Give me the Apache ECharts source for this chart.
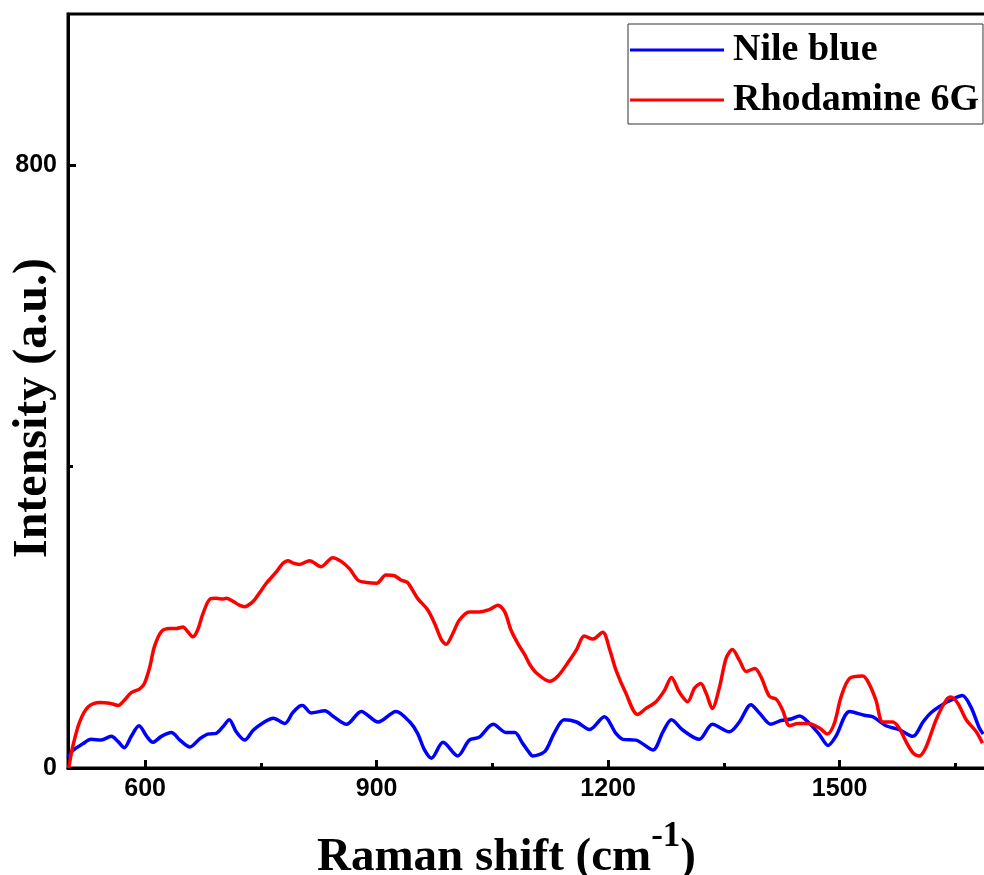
<!DOCTYPE html>
<html>
<head>
<meta charset="utf-8">
<script src="https://cdn.jsdelivr.net/npm/echarts@6/dist/echarts.min.js"></script>
<style>
html,body{margin:0;padding:0;background:#fff;}
#chart{width:984px;height:875px;}
</style>
</head>
<body>
<div id="chart"></div>
<script>
// Nile blue spectrum (Raman shift, intensity)
const nileX = [500,506,519,530,543,556,565,573,582,592,602,610,621,634,645,658,671,681,692,701,709,718,729,740,753,766,781,791,800,804,815,833,843,861,880,902,925,943,953,962,971,986,1005,1020,1033,1051,1068,1079,1089,1098,1102,1118,1130,1143,1159,1176,1195,1210,1219,1236,1258,1271,1282,1297,1318,1335,1357,1370,1385,1396,1411,1424,1437,1448,1461,1474,1485,1495,1513,1532,1543,1560,1577,1595,1608,1618,1633,1646,1659,1670,1681,1686];
const nileY = [14,23,32,38,37,42,35,27,42,56,42,34,42,47,37,28,39,45,46,55,64,48,37,50,60,66,59,73,82,83,73,76,69,58,75,61,75,61,46,24,13,34,16,37,41,58,47,47,33,20,16,22,46,64,61,51,68,46,38,37,24,48,64,50,38,58,48,61,84,73,58,63,65,69,59,44,30,42,75,70,68,56,51,42,61,73,84,91,96,81,53,45];
// Rhodamine 6G spectrum
const rhoX = [501,506,515,526,541,554,565,573,582,593,599,606,612,621,632,640,649,655,662,668,675,684,692,701,705,714,722,729,740,748,757,770,778,785,791,800,813,828,843,854,865,876,887,900,912,923,932,940,953,966,975,984,990,999,1007,1020,1033,1046,1057,1066,1074,1083,1092,1098,1107,1124,1135,1150,1159,1169,1180,1193,1202,1210,1223,1238,1249,1262,1273,1282,1292,1303,1312,1320,1327,1335,1344,1353,1361,1370,1379,1390,1398,1409,1418,1426,1435,1446,1459,1474,1484,1493,1502,1513,1530,1538,1547,1556,1569,1577,1586,1595,1603,1612,1625,1638,1644,1653,1664,1677,1685];
const rhoY = [0,28,61,81,87,86,83,90,100,105,112,134,161,181,185,185,187,181,174,183,205,224,225,224,225,221,216,214,221,232,245,260,271,275,272,270,275,267,279,274,264,249,246,245,256,255,249,246,225,210,192,170,164,179,196,207,207,210,216,207,183,165,150,138,126,115,122,143,157,175,171,180,157,130,99,71,79,88,103,120,101,88,106,112,99,79,106,146,157,143,128,132,121,95,91,77,56,59,59,53,45,59,95,119,122,112,90,61,61,53,35,20,16,28,64,90,94,86,64,48,33];

const seriesNames = ['Nile blue', 'Rhodamine 6G'];
const xMajorTicks = [600, 900, 1200, 1500];
const xMinorTicks = [750, 1050, 1350, 1650];
const yMajorTicks = [0, 800];
const yMinorTicks = [400];

const pairs = (xs, ys) => xs.map((x, i) => [x, ys[i]]);
const plain = v => String(v);

const chart = echarts.init(document.getElementById('chart'), null, {renderer: 'canvas'});
const tickFont = {fontFamily: 'Liberation Sans, Arial, sans-serif', fontWeight: 'bold', fontSize: 25, color: '#000'};
const serif = 'Liberation Serif, Times New Roman, serif';

chart.setOption({
  backgroundColor: '#fff',
  animation: false,
  grid: {left: 68, top: 14, right: -10, bottom: 107, containLabel: false, outerBoundsMode: 'none',
         show: true, borderColor: '#000', borderWidth: 3, backgroundColor: 'transparent'},
  legend: {
    data: seriesNames,
    orient: 'vertical',
    left: 628, top: 24,
    icon: 'rect',
    itemWidth: 94, itemHeight: 3, itemGap: 10,
    padding: [6, 4, 4, 2],
    borderColor: '#333', borderWidth: 1,
    textStyle: {fontFamily: serif, fontWeight: 'bold', fontSize: 38, color: '#000', lineHeight: 40, padding: [0, 0, 0, 4]}
  },
  xAxis: [
    {
      type: 'value', min: 500, max: 1700, position: 'bottom',
      axisLine: {show: true, lineStyle: {color: '#000', width: 3}},
      axisTick: {show: true, inside: true, length: 8, customValues: xMajorTicks, lineStyle: {color: '#000', width: 3}},
      axisLabel: Object.assign({show: true, margin: 9, customValues: xMajorTicks, formatter: plain}, tickFont),
      splitLine: {show: false},
      name: '{a|Raman shift (cm}{s|-1}{a|)}',
      nameLocation: 'middle',
      nameGap: 51,
      nameMoveOverlap: false,
      nameTextStyle: {
        padding: [0, 49, 0, 0],
        rich: {
          a: {fontFamily: serif, fontWeight: 'bold', fontSize: 47, color: '#000', lineHeight: 62, verticalAlign: 'bottom'},
          s: {fontFamily: serif, fontWeight: 'bold', fontSize: 35, color: '#000', lineHeight: 36, verticalAlign: 'top'}
        }
      }
    },
    {
      type: 'value', min: 500, max: 1700, position: 'bottom',
      axisLine: {show: false},
      axisTick: {show: true, inside: true, length: 5, customValues: xMinorTicks, lineStyle: {color: '#000', width: 3}},
      axisLabel: {show: false},
      splitLine: {show: false}
    }
  ],
  yAxis: [
    {
      type: 'value', min: 0, max: 1000, position: 'left',
      axisLine: {show: true, lineStyle: {color: '#000', width: 3}},
      axisTick: {show: true, inside: true, length: 8, customValues: yMajorTicks, lineStyle: {color: '#000', width: 3}},
      axisLabel: Object.assign({show: true, margin: 11, customValues: yMajorTicks, formatter: plain}, tickFont),
      splitLine: {show: false},
      name: 'Intensity (a.u.)',
      nameLocation: 'middle',
      nameRotate: 90,
      nameGap: 10,
      nameMoveOverlap: false,
      nameTextStyle: {fontFamily: serif, fontWeight: 'bold', fontSize: 48, color: '#000', padding: [0, 34, 0, 0]}
    },
    {
      type: 'value', min: 0, max: 1000, position: 'left',
      axisLine: {show: false},
      axisTick: {show: true, inside: true, length: 5, customValues: yMinorTicks, lineStyle: {color: '#000', width: 3}},
      axisLabel: {show: false},
      splitLine: {show: false}
    }
  ],
  series: [
    {
      name: seriesNames[0], type: 'line', xAxisIndex: 0, yAxisIndex: 0,
      data: pairs(nileX, nileY), showSymbol: false, smooth: 0.3,
      color: '#0000ff', lineStyle: {color: '#0000ff', width: 3.5}
    },
    {
      name: seriesNames[1], type: 'line', xAxisIndex: 0, yAxisIndex: 0,
      data: pairs(rhoX, rhoY), showSymbol: false, smooth: 0.3,
      color: '#ff0000', lineStyle: {color: '#ff0000', width: 3.5}
    }
  ]
});
</script>
</body>
</html>
